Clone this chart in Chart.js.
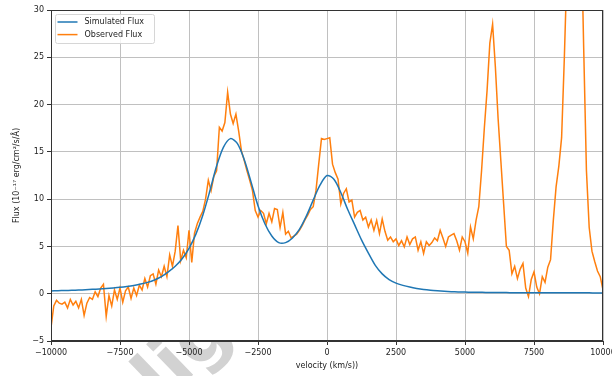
<!DOCTYPE html>
<html>
<head>
<meta charset="utf-8">
<script src="https://cdn.jsdelivr.net/npm/chart.js@4.4.1/dist/chart.umd.min.js"></script>
<style>
  html, body { margin: 0; padding: 0; background: #fff; }
</style>
</head>
<body>
<canvas id="fluxChart" width="612" height="376"></canvas>
<script>
// velocity grid of the spectra (km/s)
var obsStart = -10000, obsStep = 100;
var simStart = -10000, simStep = 250;

// model profile, one value every 250 km/s
var simulatedFlux = [
  0.30, 0.32, 0.34, 0.36, 0.39, 0.42, 0.46, 0.50, 0.55, 0.61,
  0.68, 0.77, 0.88, 1.02, 1.2, 1.45, 1.8, 2.3, 2.9, 3.7,
  4.8, 6.3, 8.3, 10.8, 13.5, 15.5, 16.4, 15.9, 14.2, 11.8,
  9.3, 7.4, 6.1, 5.4, 5.4, 5.9, 6.8, 8.2, 9.9, 11.5,
  12.5, 12.1, 10.7, 8.9, 7.3, 5.7, 4.3, 3.0, 2.1, 1.5,
  1.12, 0.88, 0.7, 0.56, 0.45, 0.37, 0.31, 0.26, 0.22, 0.19,
  0.17, 0.16, 0.15, 0.14, 0.13, 0.12, 0.12, 0.11, 0.11, 0.1,
  0.1, 0.1, 0.1, 0.09, 0.09, 0.09, 0.09, 0.09, 0.09, 0.08,
  0.08
];

// measured spectrum, one value every 100 km/s
var observedFlux = [
  -3.6, -1.3, -0.7, -1.0, -1.1, -0.9, -1.5, -0.6, -1.2, -0.8,   // -10000
  -1.5, -0.6, -2.3, -1.0, -0.4, -0.6, 0.2, -0.3, 0.6, 1.0,      // -9000
  -2.4, -0.2, -1.3, 0.4, -0.6, 0.6, -0.9, 0.3, 0.7, -0.5,       // -8000
  0.6, -0.2, 0.9, 0.4, 1.6, 0.7, 1.9, 2.1, 1.0, 2.5,            // -7000
  1.8, 2.9, 1.8, 4.1, 2.9, 4.5, 7.2, 3.5, 4.6, 3.8,             // -6000
  6.7, 3.3, 6.4, 7.4, 8.1, 8.7, 10.0, 12.0, 10.9, 12.4,         // -5000
  13.0, 17.6, 17.2, 18.1, 21.3, 19.0, 18.0, 19.0, 17.2, 15.1,   // -4000
  14.1, 13.0, 12.0, 10.9, 8.8, 8.1, 8.8, 8.5, 7.4, 8.5,         // -3000
  7.6, 9.0, 8.9, 7.0, 8.6, 6.3, 6.6, 5.9, 6.1, 6.3,             // -2000
  6.7, 7.2, 7.8, 8.3, 8.9, 9.2, 10.9, 13.7, 16.4, 16.3,         // -1000
  16.4, 16.5, 13.7, 12.8, 12.1, 9.5, 10.6, 11.1, 9.7, 9.9,      // 0
  8.1, 8.6, 8.8, 7.8, 8.1, 7.05, 7.8, 6.7, 7.75, 6.35,          // 1000
  7.9, 6.6, 5.65, 6.0, 5.5, 5.8, 5.1, 5.6, 4.95, 6.0,           // 2000
  5.2, 5.8, 6.0, 4.6, 5.5, 4.25, 5.5, 5.1, 5.4, 5.9,            // 3000
  5.6, 6.7, 5.9, 5.0, 6.0, 6.2, 6.35, 5.6, 4.6, 6.0,            // 4000
  5.5, 4.3, 7.05, 5.8, 7.75, 9.2, 13.0, 17.5, 21.5, 26.5,       // 5000
  28.5, 24.0, 18.5, 14.0, 9.5, 5.0, 4.6, 2.1, 2.9, 1.6,         // 6000
  2.6, 3.2, 0.6, -0.3, 1.5, 2.3, 0.7, 0.0, 1.8, 1.2,            // 7000
  2.8, 3.6, 7.75, 11.3, 13.5, 16.5, 25.0, 35.0, 42.0, 46.0,     // 8000
  48.0, 46.0, 40.0, 26.0, 13.0, 7.0, 4.5, 3.4, 2.4, 1.8,        // 9000
  0.4                                                           // 10000
];

var xTicks = [-10000, -7500, -5000, -2500, 0, 2500, 5000, 7500, 10000];
var yTicks = [-5, 0, 5, 10, 15, 20, 25, 30];

function toPoints(values, start, step) {
  return values.map(function(v, i) {
    return { x: start + i * step, y: v };
  });
}

function minusSign(value) {
  return String(value).replace('-', '\u2212');
}

Chart.defaults.font.family = "'DejaVu Sans', sans-serif";
Chart.defaults.font.size = 8;
Chart.defaults.color = '#222';

// background, with the faint stamp that only shows in the margins
var backdrop = {
  id: 'backdrop',
  beforeDraw: function(chart) {
    var ctx = chart.ctx, a = chart.chartArea;
    ctx.save();
    ctx.fillStyle = '#fff';
    ctx.fillRect(0, 0, chart.width, chart.height);
    ctx.translate(162, 405);
    ctx.rotate(-44 * Math.PI / 180);
    ctx.font = "bold 72px 'DejaVu Sans'";
    ctx.fillStyle = '#d2d2d2';
    ctx.textBaseline = 'alphabetic';
    ctx.fillText('Enlightened', -ctx.measureText('En').width, 0);
    ctx.restore();
    ctx.save();
    ctx.fillStyle = '#fff';
    ctx.fillRect(a.left, a.top, a.right - a.left, a.bottom - a.top);
    ctx.restore();
  }
};

// box around the axes
var frame = {
  id: 'frame',
  afterDatasetsDraw: function(chart) {
    var ctx = chart.ctx, a = chart.chartArea;
    ctx.save();
    ctx.strokeStyle = '#333';
    ctx.lineWidth = 1;
    ctx.strokeRect(Math.round(a.left) + 0.5, Math.round(a.top) + 0.5,
      Math.round(a.right - a.left) - 1, Math.round(a.bottom - a.top) - 1);
    ctx.restore();
  }
};

// legend in the upper left corner
var cornerLegend = {
  id: 'cornerLegend',
  afterDraw: function(chart) {
    var ctx = chart.ctx, a = chart.chartArea;
    var x0 = a.left + 4.5, y0 = a.top + 4.5, w = 99, h = 29, r = 2;
    ctx.save();
    ctx.beginPath();
    ctx.moveTo(x0 + r, y0);
    ctx.arcTo(x0 + w, y0, x0 + w, y0 + h, r);
    ctx.arcTo(x0 + w, y0 + h, x0, y0 + h, r);
    ctx.arcTo(x0, y0 + h, x0, y0, r);
    ctx.arcTo(x0, y0, x0 + w, y0, r);
    ctx.closePath();
    ctx.fillStyle = 'rgba(255,255,255,0.8)';
    ctx.fill();
    ctx.strokeStyle = '#d6d6d6';
    ctx.lineWidth = 1;
    ctx.stroke();
    ctx.font = "8px 'DejaVu Sans'";
    ctx.textBaseline = 'middle';
    chart.data.datasets.forEach(function(ds, i) {
      var y = y0 + 7.5 + i * 12.6;
      ctx.strokeStyle = ds.borderColor;
      ctx.lineWidth = 1.5;
      ctx.beginPath();
      ctx.moveTo(x0 + 2, y);
      ctx.lineTo(x0 + 22, y);
      ctx.stroke();
      ctx.fillStyle = '#222';
      ctx.fillText(ds.label, x0 + 29, y);
    });
    ctx.restore();
  }
};

var ctx = document.getElementById('fluxChart');

var fluxChart = new Chart(ctx, {
  type: 'line',
  data: {
    datasets: [{
      label: 'Simulated Flux',
      data: toPoints(simulatedFlux, simStart, simStep),
      borderColor: '#1f77b4',
      borderWidth: 1.5,
      pointRadius: 0,
      tension: 0.3,
      fill: false
    }, {
      label: 'Observed Flux',
      data: toPoints(observedFlux, obsStart, obsStep),
      borderColor: '#ff7f0e',
      borderWidth: 1.5,
      pointRadius: 0,
      tension: 0,
      fill: false
    }]
  },
  options: {
    responsive: false,
    animation: false,
    devicePixelRatio: 1,
    layout: { padding: { top: 10, right: 9, left: 0, bottom: 0 } },
    plugins: {
      legend: { display: false },
      tooltip: { enabled: false }
    },
    scales: {
      x: {
        type: 'linear',
        min: xTicks[0],
        max: xTicks[xTicks.length - 1],
        afterFit: function(scale) {
          scale.height = 35;
          scale.paddingLeft = 0;
          scale.paddingRight = 0;
        },
        afterBuildTicks: function(scale) {
          scale.ticks = xTicks.map(function(v) { return { value: v }; });
        },
        ticks: {
          padding: 3,
          maxRotation: 0,
          autoSkip: false,
          color: '#222',
          callback: minusSign
        },
        grid: {
          color: '#c0c0c0',
          lineWidth: 1,
          tickLength: 4,
          tickColor: '#333'
        },
        border: { display: true, color: '#333', width: 1 },
        title: {
          display: true,
          text: 'velocity (km/s))',
          color: '#222',
          font: { size: 8 },
          padding: { top: 0, bottom: 5 }
        }
      },
      y: {
        min: yTicks[0],
        max: yTicks[yTicks.length - 1],
        afterFit: function(scale) {
          scale.width = 51;
          scale.paddingTop = 0;
          scale.paddingBottom = 0;
        },
        afterBuildTicks: function(scale) {
          scale.ticks = yTicks.map(function(v) { return { value: v }; });
        },
        ticks: {
          padding: 3,
          color: '#222',
          callback: minusSign
        },
        grid: {
          color: '#c0c0c0',
          lineWidth: 1,
          tickLength: 4,
          tickColor: '#333'
        },
        border: { display: true, color: '#333', width: 1 },
        title: {
          display: true,
          text: 'Flux (10\u207B\u00B9\u2077 erg/cm\u00B2/s/\u00C5)',
          color: '#222',
          font: { size: 8 },
          padding: { top: 12, bottom: 0 }
        }
      }
    }
  },
  plugins: [backdrop, frame, cornerLegend]
});
</script>
</body>
</html>
